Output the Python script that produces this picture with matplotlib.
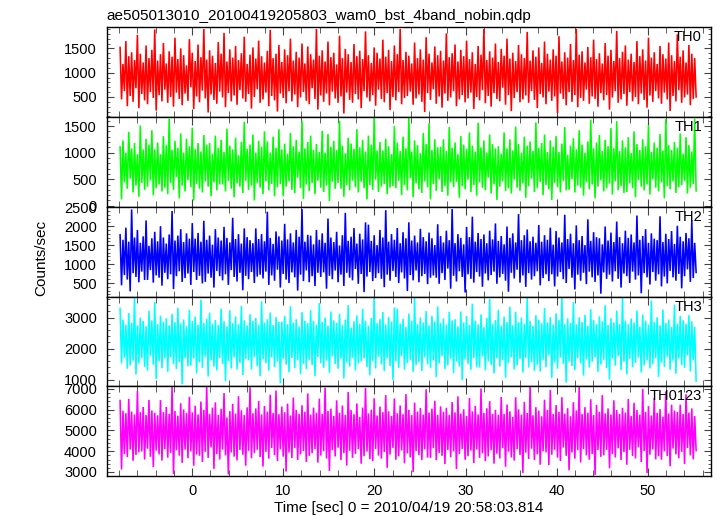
import numpy as np
import matplotlib
matplotlib.use("Agg")
import matplotlib.pyplot as plt
from matplotlib.ticker import MultipleLocator

plt.rcParams['font.family'] = ['Liberation Sans', 'DejaVu Sans']

# light curve start / stop [sec] (0 = 2010/04/19 20:58:03.814)
t_start = -7.9
t_stop = 55.3

# peaks and dips of each band (counts/sec)
th0_hi = [1520, 1180, 1650, 1340, 1420, 1260, 1780, 1390, 1210, 1560, 1300, 1470, 1890, 1250, 1380, 1610, 1190, 1440, 1330, 1720,
          1280, 1500, 1360, 1150, 1690, 1410, 1240, 1580, 1320, 1900, 1270, 1460, 1350, 1200, 1630, 1390, 1820, 1230, 1480, 1310,
          1550, 1260, 1400, 1740, 1180, 1370, 1520, 1290, 1660, 1340, 1210, 1450, 1880, 1300, 1390, 1570, 1220, 1480, 1360, 1700,
          1250, 1430, 1310, 1600, 1190, 1540, 1380, 1270, 1900, 1350, 1460, 1230, 1640, 1320, 1410, 1170, 1760, 1300, 1490, 1380,
          1220, 1590, 1340, 1450, 1280, 1850, 1360, 1200, 1520, 1410, 1290, 1680, 1330, 1470, 1240, 1560, 1380, 1900, 1260, 1430,
          1350, 1190, 1620, 1300, 1480, 1270, 1730, 1390, 1210, 1540, 1360, 1450, 1250, 1810, 1320, 1400, 1580, 1230, 1470, 1340,
          1660, 1280, 1420, 1180, 1550, 1370, 1900, 1260, 1440, 1310, 1600, 1220, 1490, 1350, 1700, 1290, 1410, 1240, 1570, 1380,
          1300, 1840, 1250, 1460, 1330, 1520, 1200, 1640, 1390, 1270, 1480, 1350, 1750, 1230, 1420, 1310, 1590, 1260, 1900, 1370,
          1440, 1210, 1530, 1320, 1680, 1280, 1400, 1190, 1610, 1350, 1470, 1240, 1860, 1300, 1430, 1560, 1270, 1390, 1220, 1650,
          1340, 1480, 1250, 1720, 1310, 1420, 1180, 1550, 1380, 1290, 1620, 1360, 1240, 1790, 1330, 1460, 1210, 1570, 1390, 1300]
th0_lo = [450, 620, 310, 520, 400, 680, 270, 560, 430, 350, 600, 480, 220, 540, 410, 650, 380, 500, 300, 590,
          460, 330, 570, 420, 700, 250, 510, 390, 630, 470, 180, 550, 440, 360, 610, 490, 290, 580, 410, 530,
          340, 640, 470, 400, 560, 260, 500, 660, 380, 450, 590, 310, 520, 430, 200, 570, 480, 370, 620, 410,
          550, 290, 490, 600, 420, 350, 680, 460, 240, 530, 400, 570, 330, 610, 470, 380, 510, 160, 590, 440,
          380, 560, 450, 270, 620, 490, 410, 540, 320, 650, 460, 390, 580, 230, 500, 430, 600, 350, 480, 520,
          610, 340, 470, 550, 400, 190, 580, 440, 660, 360, 510, 280, 570, 420, 490, 620, 310, 450, 540, 390,
          470, 590, 250, 500, 430, 640, 370, 520, 300, 580, 460, 410, 690, 340, 540, 210, 480, 600, 390, 450,
          530, 380, 620, 440, 270, 560, 490, 350, 610, 420, 510, 170, 570, 460, 330, 600, 400, 540, 290, 480,
          420, 650, 360, 510, 460, 300, 580, 430, 540, 240, 490, 620, 380, 450, 560, 320, 600, 410, 500, 350,
          570, 440, 280, 530, 400, 620, 470, 360, 590, 450, 210, 520, 410, 640, 380, 490, 550, 330, 460, 500]

th1_hi = [1110, 1230, 1000, 1390, 1080, 1180, 970, 1510, 1060, 1260, 1150,
          1420, 1060, 1190, 970, 1310, 1140, 1640, 1050, 1220, 1090, 1360, 1000, 1260, 1120, 1470, 1070, 1180, 1020, 1330, 1150,
          1180, 980, 1320, 1090, 1240, 1010, 1450, 1130, 1060, 1280, 950, 1200, 1580, 1070, 1150, 1340, 1000, 1220, 1110, 1400,
          1210, 1000, 1300, 1090, 1440, 1060, 1170, 980, 1370, 1120, 1240, 1020, 1600, 1080, 1200, 1320, 1050, 1160, 1010, 1410,
          1000, 1350, 1110, 1220, 1050, 1600, 1130, 990, 1280, 1170, 1070, 1440, 1100, 1240, 1020, 1320, 1150, 1650, 1040, 1200,
          1040, 1260, 1120, 970, 1500, 1190, 1030, 1300, 1080, 1650, 1020, 1230, 1140, 990, 1370, 1160, 1550, 1050, 1250, 1100,
          1110, 1250, 1030, 1480, 1090, 1190, 970, 1310, 1150, 1070, 1380, 1130, 1020, 1560, 1100, 1230, 1000, 1340, 1160, 1080,
          1120, 980, 1380, 1080, 1250, 1040, 1490, 1160, 1000, 1300, 1130, 1210, 1030, 1570, 1090, 1180, 1340, 1010, 1230, 1110,
          1310, 1010, 1170, 1480, 960, 1130, 1270, 1060, 1420, 1150, 1000, 1210, 1620, 1080, 1190, 1330, 1030, 1240, 1120, 1460,
          1080, 1590, 1030, 1230, 1100, 1290, 990, 1400, 1160, 1050, 1250, 1120, 1520, 1010, 1190, 1090, 1350, 1040, 1630, 1140,
          1050, 1200, 1090, 1360, 980, 1290, 1140, 1020, 1640]
th1_lo = [120, 440, 320, 510, 250, 380, 170, 430, 300, 360, 480, 200, 330, 400, 270,
          340, 220, 430, 300, 540, 140, 380, 270, 480, 350, 100, 410, 320, 250, 460, 360, 180, 440, 290, 400,
          400, 270, 470, 320, 160, 420, 360, 240, 470, 300, 380, 100, 430, 340, 220, 460, 290, 410, 180, 350,
          410, 180, 360, 460, 300, 240, 530, 330, 130, 400, 280, 430, 220, 470, 340, 260, 380, 90, 450, 320,
          430, 320, 170, 390, 290, 470, 350, 250, 450, 330, 120, 390, 300, 490, 260, 360, 410, 220, 340, 370,
          330, 470, 200, 390, 290, 520, 160, 420, 310, 240, 460, 350, 120, 410, 280, 500, 260, 370, 190, 440,
          350, 450, 150, 370, 310, 490, 260, 390, 190, 440, 340, 290, 530, 230, 400, 110, 360, 460, 280, 330,
          230, 490, 340, 280, 420, 150, 370, 510, 260, 330, 450, 200, 390, 310, 110, 430, 350, 250, 470, 290,
          300, 500, 250, 380, 340, 190, 440, 310, 400, 140, 360, 480, 270, 330, 420, 210, 460, 290, 370, 240,
          260, 420, 330, 160, 480, 360, 290, 400, 210, 500, 340, 270, 440, 140, 370, 310, 460, 240, 350, 390,
          470, 230, 340, 410, 280]

th2_hi = [1770, 1640, 1960, 1590, 2440, 1700,
          1900, 1560, 1730, 2150, 1480, 1680, 1850, 1600, 2000, 1700, 1540, 1780, 2400, 1620, 1750, 1920, 1580, 1810, 1670, 2080,
          1670, 1820, 1590, 2140, 1640, 1750, 1510, 1920, 1700, 1620, 1980, 1690, 1570, 2220, 1660, 1790, 1540, 1940, 1710, 1630,
          1550, 1940, 1660, 1790, 1600, 2380, 1690, 1530, 1860, 1730, 1620, 2060, 1650, 1810, 1570, 1900, 1720, 2450, 1590, 1770,
          1750, 1520, 1900, 1640, 1810, 1560, 2200, 1700, 1580, 1850, 1490, 1760, 2350, 1610, 1720, 1950, 1540, 1800, 1650, 2100,
          2040, 1610, 1760, 1500, 1900, 1700, 2420, 1590, 1790, 1640, 1950, 1550, 1840, 1680, 2100, 1620, 1750, 1570, 1930, 1710,
          1600, 1830, 1680, 1500, 2050, 1740, 1570, 1880, 1630, 2450, 1550, 1790, 1690, 1520, 1980, 1710, 2250, 1590, 1820, 1660,
          1780, 1550, 1880, 1650, 2070, 1610, 1740, 1520, 1990, 1690, 1810, 1570, 2320, 1630, 1760, 1910, 1600, 1720, 1560, 2030,
          1590, 1760, 1640, 1960, 1510, 1870, 1700, 1570, 2300, 1660, 1800, 1550, 2020, 1630, 1740, 1500, 2180, 1610, 1840, 1710,
          1680, 1520, 1990, 1620, 1830, 1580, 2120, 1710, 1550, 1880, 1690, 1780, 1570, 2280, 1640, 1740, 1920, 1560, 1810, 1670,
          1630, 2260, 1580, 1800, 1660, 1870, 1530, 2010, 1720, 1600, 1820, 1680, 2160, 1560]
th2_lo = [440, 710, 590, 280, 760, 660, 520, 800, 580,
          580, 840, 510, 700, 640, 430, 770, 600, 730, 340, 680, 810, 530, 630, 750, 450, 790, 580, 690, 490,
          530, 750, 640, 380, 820, 680, 570, 730, 450, 840, 660, 540, 770, 310, 690, 600, 790, 500, 670, 720,
          620, 800, 450, 700, 560, 850, 380, 740, 590, 500, 780, 650, 300, 720, 550, 830, 520, 680, 420, 770,
          660, 780, 350, 690, 600, 830, 520, 720, 420, 770, 640, 570, 870, 480, 740, 260, 670, 790, 550, 630,
          760, 610, 390, 720, 560, 820, 660, 500, 780, 620, 290, 710, 570, 830, 520, 680, 740, 470, 640, 700,
          640, 480, 760, 580, 880, 350, 690, 540, 810, 660, 250, 730, 610, 510, 790, 670, 400, 750, 570, 710,
          800, 480, 650, 740, 560, 270, 770, 620, 850, 510, 700, 400, 760, 590, 680, 810, 440, 630, 730, 550,
          730, 410, 670, 790, 600, 500, 870, 640, 330, 720, 560, 770, 470, 800, 650, 530, 700, 220, 780, 610,
          720, 540, 810, 610, 380, 750, 680, 500, 800, 590, 700, 230, 760, 650, 460, 790, 560, 730, 410, 670,
          490, 820, 650, 560, 740, 360, 680, 860, 530, 630, 780]

th3_hi = [3300, 2940, 2770, 3150, 2830, 3650, 2750, 3000, 2890, 2720, 3220, 2910, 3500, 2790, 3060, 2870,
          2980, 2750, 3120, 2850, 3320, 2810, 2940, 2720, 3250, 2890, 3030, 2770, 3580, 2830, 2960, 3160, 2800, 2920, 2760, 3290,
          2880, 2720, 3240, 2820, 3040, 2780, 3380, 2910, 2750, 3110, 2890, 2990, 2770, 3530, 2840, 2950, 3170, 2760, 3020, 2870,
          2870, 3050, 2790, 3370, 2840, 2950, 2710, 3180, 2900, 2820, 3240, 2890, 2770, 3470, 2860, 3000, 2740, 3200, 2910, 2830,
          3120, 2760, 2930, 3400, 2680, 2880, 3070, 2800, 3280, 2900, 2740, 2990, 3620, 2820, 2950, 3180, 2780, 3020, 2870, 3330,
          3290, 2810, 2960, 2700, 3130, 2900, 3640, 2790, 3000, 2840, 3210, 2750, 3060, 2880, 3360, 2820, 2970, 2770, 3190, 2910,
          2950, 2720, 3200, 2840, 3050, 2760, 3450, 2900, 2780, 3100, 2690, 2980, 3600, 2810, 2920, 3250, 2740, 3030, 2860, 3350,
          2750, 3190, 2860, 3000, 2800, 3640, 2890, 2730, 3080, 2930, 2820, 3310, 2850, 3020, 2770, 3140, 2920, 3650, 2790, 2980,
          2830, 3500, 2780, 3010, 2860, 3090, 2730, 3270, 2920, 2800, 3040, 2880, 3400, 2760, 2980, 2840, 3230, 2790, 3650, 2900,
          2790, 2970, 2840, 3230, 2710, 3100, 2900, 2770, 3550, 2860, 3010, 2750, 3260, 2830, 2940, 2700, 3420, 2810, 3050, 2910,
          2800, 3080, 2880, 2700]
th3_lo = [1520, 1700, 1350, 1460,
          1610, 1160, 1520, 1690, 1410, 1290, 1770, 1480, 1020, 1600, 1370, 1680, 1250, 1720, 1500, 1340, 1570, 850, 1690, 1430,
          1450, 1680, 1200, 1560, 1380, 1740, 1100, 1620, 1420, 1300, 1700, 1510, 950, 1590, 1360, 1720, 1330, 1540, 1150, 1660,
          1620, 1330, 1720, 1430, 1110, 1660, 1530, 1290, 1710, 1400, 1580, 880, 1670, 1480, 1240, 1700, 1370, 1630, 1180, 1510,
          1340, 1640, 1470, 1120, 1730, 1530, 1380, 1610, 1220, 1750, 1500, 1350, 1670, 1040, 1550, 1420, 1700, 1300, 1520, 1600,
          1680, 1410, 1140, 1600, 1360, 1730, 1490, 1280, 1690, 1440, 990, 1590, 1380, 1750, 1320, 1530, 1640, 1250, 1470, 1570,
          1280, 1730, 1490, 1370, 1620, 1080, 1530, 1760, 1340, 1460, 1670, 1210, 1580, 1420, 980, 1650, 1510, 1320, 1700, 1400,
          1390, 1750, 1300, 1590, 1470, 1200, 1690, 1420, 1630, 1060, 1540, 1720, 1330, 1460, 1660, 1230, 1700, 1390, 1560, 1280,
          1480, 1260, 1640, 1400, 1780, 1050, 1550, 1350, 1710, 1500, 900, 1600, 1440, 1310, 1690, 1520, 1130, 1650, 1390, 1580,
          1720, 1250, 1490, 1640, 1370, 1000, 1680, 1450, 1760, 1310, 1580, 1170, 1660, 1400, 1540, 1710, 1230, 1460, 1620, 1360,
          1500, 1690, 1090, 1550, 1410, 1740, 1320, 1610, 1190, 1680, 1470, 1380, 1780, 1260, 1640, 950]

th0123_hi = [6440, 5950, 5830, 6520, 5910, 5770, 6900, 5880, 6130, 5740, 6470, 5960, 5850,
             5730, 6460, 5880, 6130, 5800, 7100, 5940, 5710, 6310, 6010, 5840, 6620, 5870, 6190, 5770, 6390, 5990, 7120, 5790, 6100,
             6350, 5750, 6040, 6800, 5620, 5930, 6280, 5810, 6650, 5970, 5740, 6110, 7080, 5830, 6060, 6420, 5770, 6180, 5910, 6720,
             5840, 6920, 5780, 6150, 5880, 6290, 5720, 6580, 5990, 5800, 6210, 5900, 6780, 5760, 6100, 5850, 6530, 5790, 7060, 5940,
             6050, 5700, 6450, 5850, 6200, 5750, 6850, 5980, 5780, 6300, 5650, 6100, 7050, 5820, 6000, 6550, 5720, 6150, 5880, 6700,
             5920, 5700, 6540, 5830, 6200, 5780, 6750, 5990, 5740, 6340, 5910, 6080, 5760, 6980, 5860, 6050, 6430, 5750, 6160, 5900,
             6090, 5750, 6370, 5870, 6640, 5810, 6020, 5700, 6560, 5920, 6180, 5770, 7020, 5840, 6070, 6410, 5800, 5990, 5760, 6610,
             5800, 6250, 5920, 5650, 6600, 6020, 5760, 6380, 5840, 7100, 5730, 6120, 5950, 5680, 6480, 5990, 6950, 5790, 6220, 5900,
             6600, 5810, 6070, 5680, 6360, 5960, 7090, 5790, 6120, 5850, 6500, 5740, 6230, 5900, 6700, 5820, 6060, 5770, 6450, 5980,
             5790, 6090, 5860, 6520, 5690, 6330, 5980, 5760, 7000, 5890, 6170, 5720, 6560, 5850, 6030, 5660, 6880, 5820, 6240, 5960,
             5890, 6240, 5790, 6740, 5860, 6060, 5690]
th0123_lo = [3120, 3860, 3720, 4080, 3540, 3820, 3950,
             3990, 3600, 4120, 3730, 3240, 4030, 3850, 3550, 4100, 3690, 3920, 2900, 4040, 3790, 3440, 4080, 3660, 4000, 3300, 3840,
             3780, 3480, 3970, 3680, 4200, 3150, 3860, 3600, 4080, 3800, 2880, 3940, 3740, 3560, 4060, 3830, 3300, 4020, 3660, 3910,
             4070, 3720, 3260, 3970, 3640, 4150, 3810, 3530, 4090, 3740, 3020, 3940, 3670, 4160, 3580, 3850, 4010, 3480, 3780, 3900,
             4110, 3450, 3790, 4000, 3650, 3050, 4050, 3750, 4170, 3570, 3910, 3310, 4020, 3680, 3870, 4100, 3400, 3760, 3990, 3620,
             3520, 4110, 3790, 3640, 3960, 3200, 3840, 4160, 3590, 3760, 4040, 3420, 3900, 3700, 3000, 4010, 3810, 3570, 4090, 3690,
             3680, 4140, 3570, 3920, 3780, 3380, 4060, 3710, 3990, 3140, 3860, 4110, 3590, 3760, 4030, 3430, 4080, 3680, 3900, 3520,
             3750, 4050, 3400, 3880, 3650, 4150, 3250, 3980, 3700, 3550, 4100, 3820, 2950, 3930, 3620, 4120, 3580, 3850, 3350, 4000,
             3950, 3330, 3830, 4070, 3690, 3530, 4180, 3780, 3080, 3940, 3640, 4050, 3460, 4100, 3800, 3590, 3870, 2850, 4060, 3730,
             3800, 4060, 3180, 3860, 3700, 4140, 3580, 3960, 3350, 4070, 3770, 3650, 4190, 3480, 4010, 2950, 3830, 4090, 3610, 3760,
             3590, 4000, 3770, 3280, 4130, 3850, 3660, 3970, 3380, 4150, 3800, 3610, 4030]

names = ["TH0", "TH1", "TH2", "TH3", "TH0123"]
colors = ["#ff0000", "#00ff00", "#0000ff", "#00ffff", "#ff00ff"]
his = [th0_hi, th1_hi, th2_hi, th3_hi, th0123_hi]
los = [th0_lo, th1_lo, th2_lo, th3_lo, th0123_lo]
ylims = [(87, 1934), (-19, 1669), (144, 2510), (786, 3680), (2807, 7126)]
yticks = [[500, 1000, 1500], [0, 500, 1000, 1500], [500, 1000, 1500, 2000, 2500],
          [1000, 2000, 3000], [3000, 4000, 5000, 6000, 7000]]
yminor = [100, 100, 100, 200, 200]

fig, axes = plt.subplots(5, 1, figsize=(7.17, 5.16), dpi=100, sharex=True)
fig.subplots_adjust(left=0.1488, right=0.9916, top=0.9471, bottom=0.0775, hspace=0)

for i, ax in enumerate(axes):
    # peaks and dips alternate, so the trace fills the band like the raw light curve
    y = np.column_stack([his[i], los[i]]).ravel()
    t = np.linspace(t_start, t_stop, len(y))
    ax.plot(t, y, color=colors[i], lw=1.15, solid_joinstyle='miter')
    ax.set_ylim(*ylims[i])
    ax.set_yticks(yticks[i])
    ax.yaxis.set_minor_locator(MultipleLocator(yminor[i]))
    ax.xaxis.set_major_locator(MultipleLocator(10))
    ax.xaxis.set_minor_locator(MultipleLocator(2))
    ax.tick_params(axis='x', which='major', direction='in', top=True, length=5.5,
                   color='#444444', labelsize=10.5, pad=6)
    ax.tick_params(axis='x', which='minor', direction='in', top=True, length=4,
                   color='#444444')
    ax.tick_params(axis='y', which='major', direction='in', right=True, length=5,
                   color='#444444', labelsize=10.5, pad=7)
    ax.tick_params(axis='y', which='minor', direction='in', right=True, length=2.5,
                   color='#444444')
    for s in ax.spines.values():
        s.set_linewidth(1.0)
    ax.text(0.985, 1 - 10 / 89.5, names[i], transform=ax.transAxes,
            ha='right', va='center', fontsize=10.5)

axes[-1].set_xlim(-9.37, 56.93)
axes[-1].set_xlabel("Time [sec] 0 = 2010/04/19 20:58:03.814", fontsize=11, labelpad=2)
axes[0].set_title("ae505013010_20100419205803_wam0_bst_4band_nobin.qdp",
                  loc='left', fontsize=11, pad=5)
fig.text(41 / 717, 1 - 258 / 516, "Counts/sec", rotation=90, ha='center',
         va='center', fontsize=11)

fig.savefig("out.png", dpi=100)
